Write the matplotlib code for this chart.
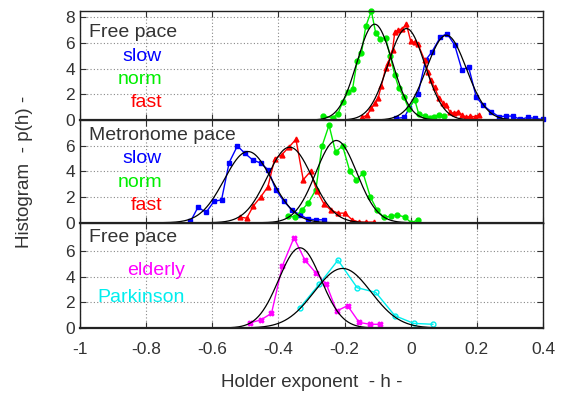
import matplotlib
matplotlib.use("Agg")
import matplotlib.pyplot as plt
import numpy as np

# ---- top panel: free pace, healthy subjects ----
free_slow_h = [-0.045, -0.019, -0.005, 0.022, 0.045, 0.064, 0.090, 0.110, 0.133, 0.155,
               0.175, 0.198, 0.218, 0.244, 0.267, 0.289, 0.309, 0.331, 0.354, 0.375, 0.400]
free_slow_p = [0.13, 0.21, 0.91, 2.02, 4.67, 5.31, 6.48, 6.74, 5.84, 3.89,
               4.15, 1.81, 1.17, 0.65, 0.26, 0.31, 0.31, 0.05, 0.21, 0.13, 0.05]

free_norm_h = [-0.265, -0.235, -0.220, -0.206, -0.189, -0.176, -0.162, -0.149, -0.136, -0.119,
               -0.106, -0.092, -0.076, -0.062, -0.048, -0.036, -0.021, -0.006, 0.012, 0.024,
               0.042, 0.057, 0.069, 0.085, 0.100]
free_norm_p = [0.30, 0.20, 0.50, 1.40, 2.20, 2.40, 4.60, 5.20, 7.30, 8.50,
               6.80, 6.30, 6.40, 5.00, 3.50, 2.50, 1.80, 0.90, 1.60, 0.50,
               0.30, 0.20, 0.25, 0.40, 0.30]

free_fast_h = [-0.146, -0.132, -0.119, -0.109, -0.099, -0.089, -0.076, -0.069, -0.055, -0.048,
               -0.038, -0.025, -0.013, 0.000, 0.012, 0.022, 0.042, 0.052, 0.060, 0.072,
               0.086, 0.098, 0.108, 0.118, 0.130, 0.143, 0.156, 0.168, 0.180, 0.193, 0.205]
free_fast_p = [0.21, 0.39, 0.91, 1.30, 1.69, 2.65, 4.02, 4.41, 5.45, 6.87,
               7.00, 7.13, 7.47, 6.15, 6.05, 5.92, 4.67, 3.76, 3.11, 2.54,
               1.69, 1.30, 1.17, 0.65, 0.52, 0.65, 0.39, 0.21, 0.31, 0.26, 0.39]

# ---- middle panel: metronome pace ----
metro_slow_h = [-0.666, -0.643, -0.619, -0.595, -0.572, -0.549, -0.524, -0.502, -0.478,
                -0.454, -0.431, -0.408, -0.383, -0.360, -0.335, -0.310, -0.287, -0.263]
metro_slow_p = [0.10, 1.22, 0.80, 1.66, 1.79, 4.69, 5.99, 5.42, 4.90,
                4.65, 4.13, 2.57, 1.66, 1.01, 0.62, 0.29, 0.23, 0.23]

metro_norm_h = [-0.371, -0.350, -0.329, -0.310, -0.287, -0.268, -0.247, -0.227, -0.206, -0.184,
                -0.164, -0.144, -0.122, -0.102, -0.082, -0.061, -0.041, -0.018, 0.002, 0.022]
metro_norm_p = [0.54, 0.44, 1.00, 1.53, 2.57, 5.99, 7.60, 5.50, 5.99, 4.00,
                3.35, 3.86, 2.00, 1.01, 0.44, 0.49, 0.62, 0.44, 0.00, 0.23]

metro_fast_h = [-0.517, -0.496, -0.476, -0.454, -0.432, -0.411, -0.390, -0.368, -0.347, -0.325,
                -0.303, -0.284, -0.263, -0.242, -0.220, -0.199, -0.178, -0.157, -0.134, -0.112]
metro_fast_p = [0.44, 0.36, 1.30, 2.00, 2.80, 5.00, 5.30, 5.90, 6.50, 3.35,
                4.00, 2.50, 1.50, 1.00, 0.75, 0.75, 0.25, 0.05, 0.05, 0.05]

# ---- bottom panel: free pace, elderly / Parkinson ----
elderly_h = [-0.486, -0.454, -0.421, -0.388, -0.353, -0.320, -0.287, -0.255, -0.224,
             -0.191, -0.156, -0.124, -0.092]
elderly_p = [0.41, 0.62, 1.14, 4.85, 7.03, 5.29, 4.30, 3.40, 1.32,
             1.74, 0.44, 0.29, 0.29]

parkinson_h = [-0.335, -0.277, -0.220, -0.162, -0.106, -0.048, 0.009, 0.067]
parkinson_p = [1.58, 3.40, 5.29, 3.14, 2.78, 0.96, 0.36, 0.29]

# gaussian fits: (centre, peak height)
free_fits = [(0.108, 6.61), (-0.109, 7.47), (-0.013, 7.13)]
metro_fits = [(-0.492, 5.55), (-0.225, 6.41), (-0.366, 5.89)]
bottom_fits = [(-0.335, 6.25), (-0.206, 4.64)]

x_ticks = [-1, -0.8, -0.6, -0.4, -0.2, 0, 0.2, 0.4]
x_tick_labels = ["-1", "-0.8", "-0.6", "-0.4", "-0.2", "0", "0.2", "0.4"]

BLUE, GREEN, RED = "#0000ff", "#00ee00", "#ff0000"
MAGENTA, CYAN = "#ff00ff", "#00eeee"
TXT = "#333333"

plt.rcParams["font.family"] = ["Liberation Sans", "DejaVu Sans"]

hh = np.linspace(-1, 0.4, 600)


def gauss(mu, peak):
    sigma = 1.0 / (peak * np.sqrt(2 * np.pi))
    return peak * np.exp(-(hh - mu) ** 2 / (2 * sigma ** 2))


fig = plt.figure(figsize=(5.66, 3.94), dpi=100)
gs = fig.add_gridspec(3, 1, height_ratios=[8.5, 8.0, 8.2], hspace=0,
                      left=80 / 566, right=543 / 566, top=1 - 11 / 394, bottom=1 - 328 / 394)
ax_top = fig.add_subplot(gs[0])
ax_mid = fig.add_subplot(gs[1], sharex=ax_top)
ax_bot = fig.add_subplot(gs[2], sharex=ax_top)

line_kw = dict(lw=1.0, ms=3.5, clip_on=False)

ax_top.plot(free_slow_h, free_slow_p, "-s", color=BLUE, **line_kw)
ax_top.plot(free_norm_h, free_norm_p, "-o", color=GREEN, **line_kw)
ax_top.plot(free_fast_h, free_fast_p, "-^", color=RED, **line_kw)
for mu, pk in free_fits:
    ax_top.plot(hh, gauss(mu, pk), color="black", lw=0.9)

ax_mid.plot(metro_slow_h, metro_slow_p, "-s", color=BLUE, **line_kw)
ax_mid.plot(metro_norm_h, metro_norm_p, "-o", color=GREEN, **line_kw)
ax_mid.plot(metro_fast_h, metro_fast_p, "-^", color=RED, **line_kw)
for mu, pk in metro_fits:
    ax_mid.plot(hh, gauss(mu, pk), color="black", lw=0.9)

ax_bot.plot(elderly_h, elderly_p, "-X", color=MAGENTA, **line_kw)
ax_bot.plot(parkinson_h, parkinson_p, "-o", color=CYAN, mfc="none", mew=1.0, **line_kw)
for mu, pk in bottom_fits:
    ax_bot.plot(hh, gauss(mu, pk), color="black", lw=0.9)

for ax, ylim, yt in [(ax_top, 8.5, [0, 2, 4, 6, 8]),
                     (ax_mid, 8.0, [0, 2, 4, 6]),
                     (ax_bot, 8.2, [0, 2, 4, 6])]:
    ax.set_xlim(-1, 0.4)
    ax.set_ylim(0, ylim)
    ax.set_yticks(yt)
    ax.set_xticks(x_ticks)
    ax.grid(True, color="#888888", ls=(0, (1, 2)), lw=0.8)
    ax.tick_params(direction="in", top=True, right=True, length=4,
                   labelsize=12.5, labelcolor=TXT, colors="#333333")
    for sp in ax.spines.values():
        sp.set_linewidth(1.0)
        sp.set_color("#222222")
    ax.spines["bottom"].set_linewidth(1.6)

ax_top.tick_params(labelbottom=False)
ax_mid.tick_params(labelbottom=False)
ax_bot.tick_params(axis="x", pad=10)
ax_bot.set_xticklabels(x_tick_labels)


def label(ax, x, y, s, color, ha="center"):
    ax.text(x, y, s, color=color, fontsize=14, ha=ha, va="center", transform=ax.transAxes)


label(ax_top, 0.019, 0.80, "Free pace", TXT, ha="left")
label(ax_top, 0.177, 0.58, "slow", BLUE, ha="right")
label(ax_top, 0.177, 0.37, "norm", GREEN, ha="right")
label(ax_top, 0.177, 0.16, "fast", RED, ha="right")

label(ax_mid, 0.019, 0.85, "Metronome pace", TXT, ha="left")
label(ax_mid, 0.177, 0.63, "slow", BLUE, ha="right")
label(ax_mid, 0.177, 0.39, "norm", GREEN, ha="right")
label(ax_mid, 0.177, 0.17, "fast", RED, ha="right")

label(ax_bot, 0.019, 0.86, "Free pace", TXT, ha="left")
label(ax_bot, 0.227, 0.55, "elderly", MAGENTA, ha="right")
label(ax_bot, 0.227, 0.29, "Parkinson", CYAN, ha="right")

ax_bot.set_xlabel("Holder exponent  - h -", fontsize=13.5, color=TXT, labelpad=12)
fig.text(25 / 566, 1 - 172 / 394, "Histogram  - p(h) -", rotation=90, fontsize=13.5,
         color=TXT, ha="center", va="center")

fig.savefig("out.png", dpi=100)
